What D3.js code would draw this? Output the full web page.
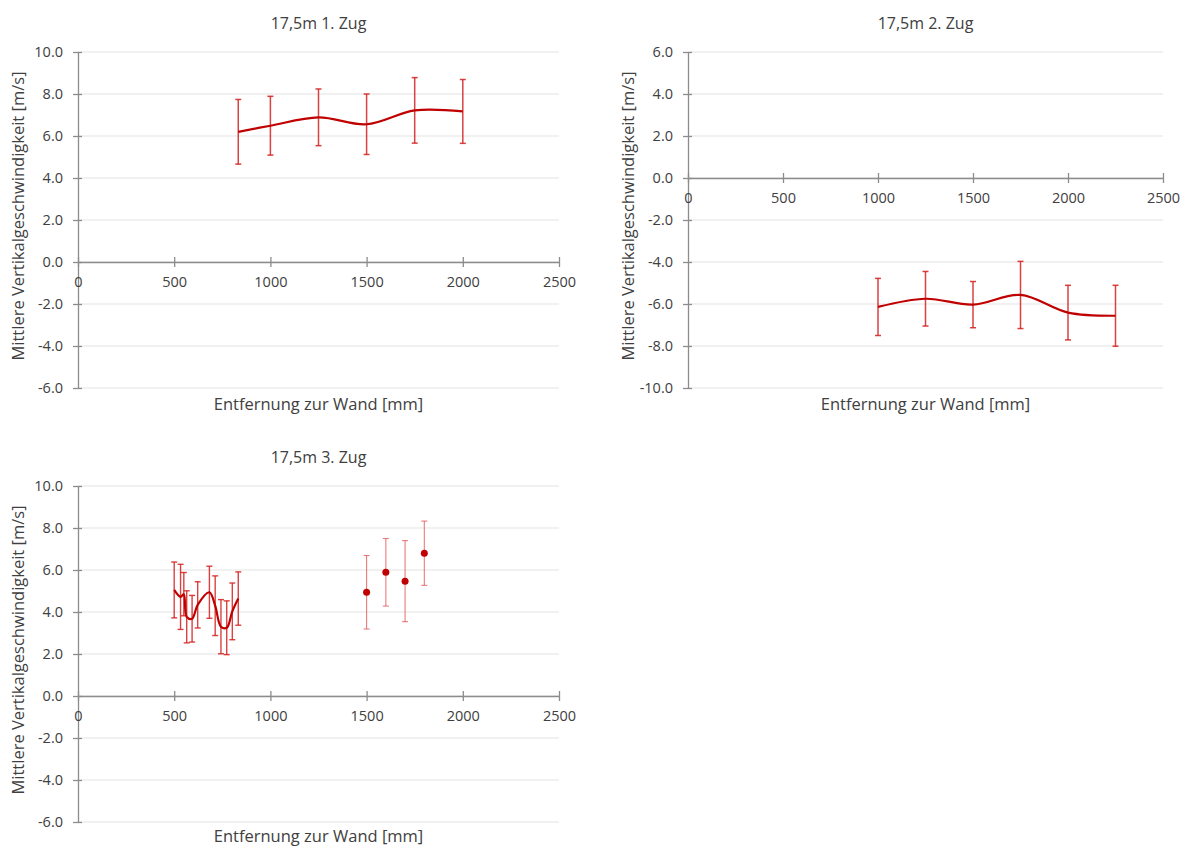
<!DOCTYPE html>
<html>
<head>
<meta charset="utf-8">
<script src="https://cdn.jsdelivr.net/npm/d3@7"></script>
<style>
  body { margin: 0; background: #fff; }
  text { font-family: "Open Sans", "Noto Sans", sans-serif; fill: #404040; }
</style>
</head>
<body>
<div id="chart"></div>
<script>
// ---- data ----
// 17,5m 1. Zug
var zug1X   = [833, 1000, 1250, 1500, 1750, 2000];
var zug1Y   = [6.20, 6.49, 6.89, 6.56, 7.22, 7.17];
var zug1Err = [1.54, 1.40, 1.35, 1.44, 1.56, 1.52];

// 17,5m 2. Zug
var zug2X   = [1000, 1250, 1500, 1750, 2000, 2250];
var zug2Y   = [-6.14, -5.75, -6.03, -5.57, -6.41, -6.56];
var zug2Err = [1.36, 1.30, 1.10, 1.60, 1.30, 1.45];

// 17,5m 3. Zug - line series
var zug3X   = [500, 533, 550, 565, 593, 622, 683, 713, 743, 773, 802, 833];
var zug3Y   = [5.05, 4.72, 4.85, 3.77, 3.68, 4.34, 4.94, 4.30, 3.30, 3.25, 4.03, 4.64];
var zug3Err = [1.33, 1.55, 1.03, 1.24, 1.11, 1.10, 1.24, 1.42, 1.29, 1.28, 1.35, 1.27];

// 17,5m 3. Zug - single points
var zug3bX   = [1500, 1600, 1700, 1800];
var zug3bY   = [4.94, 5.89, 5.47, 6.80];
var zug3bErr = [1.75, 1.61, 1.93, 1.53];

var xTicks = [0, 500, 1000, 1500, 2000, 2500];

var svg = d3.select("#chart").append("svg")
  .attr("width", 1189)
  .attr("height", 846);

function zip(xs, ys, es) {
  return xs.map(function(x, i) { return { x: x, y: ys[i], e: es[i] }; });
}

function drawPanel(p) {
  var x = d3.scaleLinear().domain([0, 2500]).range([p.left, p.right]);
  var y = d3.scaleLinear().domain(p.yDomain).range([p.bottom, p.top]);
  var yTicks = d3.range(p.yDomain[0], p.yDomain[1] + 0.001, 2);
  var g = svg.append("g");

  // gridlines
  g.selectAll(".grid").data(yTicks).enter().append("line")
    .attr("x1", x(0)).attr("x2", x(2500))
    .attr("y1", function(d) { return y(d); })
    .attr("y2", function(d) { return y(d); })
    .style("stroke", "#e3e3e3")
    .style("stroke-width", 1);

  // y axis
  var yAxis = g.append("g")
    .attr("transform", "translate(" + x(0) + ",0)")
    .call(d3.axisLeft(y).tickValues(yTicks).tickSize(4).tickSizeOuter(0).tickPadding(11)
      .tickFormat(function(d) { return d.toFixed(1); }));
  yAxis.selectAll(".tick line").attr("x1", 4).attr("x2", -5);
  yAxis.selectAll("path, line").style("stroke", "#8c8c8c").style("stroke-width", 1.3);
  yAxis.selectAll("text").style("font-size", "14.5px").style("fill", "#404040")
    .style("font-family", "'Open Sans', sans-serif");

  // x axis at y = 0
  var xAxis = g.append("g")
    .attr("transform", "translate(0," + y(0) + ")")
    .call(d3.axisBottom(x).tickValues(xTicks).tickSize(4).tickSizeOuter(0).tickPadding(11)
      .tickFormat(d3.format("d")));
  xAxis.selectAll(".tick line").attr("y1", -5).attr("y2", 5);
  xAxis.selectAll("path, line").style("stroke", "#8c8c8c").style("stroke-width", 1.3);
  xAxis.selectAll("text").style("font-size", "14.5px").style("fill", "#404040")
    .style("font-family", "'Open Sans', sans-serif");

  // titles
  g.append("text")
    .attr("x", (p.left + p.right) / 2).attr("y", p.top - 23)
    .attr("text-anchor", "middle")
    .style("font-size", "16px")
    .text(p.title);
  g.append("text")
    .attr("x", (p.left + p.right) / 2).attr("y", p.bottom + p.xLabelGap)
    .attr("text-anchor", "middle")
    .style("font-size", "16.5px")
    .text("Entfernung zur Wand [mm]");
  g.append("text")
    .attr("transform", "translate(" + (p.left - 54) + "," + ((p.top + p.bottom) / 2 - 4) + ") rotate(-90)")
    .attr("text-anchor", "middle")
    .style("font-size", "16.5px")
    .text("Mittlere Vertikalgeschwindigkeit [m/s]");

  p.series.forEach(function(s) {
    var pts = s.data;
    // error bars
    var eb = g.append("g")
      .style("stroke", s.barColor)
      .style("stroke-opacity", s.barOpacity)
      .style("stroke-width", s.barWidth);
    eb.selectAll(".bar").data(pts).enter().append("line")
      .attr("x1", function(d) { return x(d.x); }).attr("x2", function(d) { return x(d.x); })
      .attr("y1", function(d) { return y(d.y + d.e); }).attr("y2", function(d) { return y(d.y - d.e); });
    eb.selectAll(".capT").data(pts).enter().append("line")
      .attr("x1", function(d) { return x(d.x) - 3; }).attr("x2", function(d) { return x(d.x) + 3; })
      .attr("y1", function(d) { return y(d.y + d.e); }).attr("y2", function(d) { return y(d.y + d.e); });
    eb.selectAll(".capB").data(pts).enter().append("line")
      .attr("x1", function(d) { return x(d.x) - 3; }).attr("x2", function(d) { return x(d.x) + 3; })
      .attr("y1", function(d) { return y(d.y - d.e); }).attr("y2", function(d) { return y(d.y - d.e); });

    if (s.type === "line") {
      var line = d3.line()
        .x(function(d) { return x(d.x); })
        .y(function(d) { return y(d.y); })
        .curve(d3.curveCatmullRom);
      g.append("path").datum(pts)
        .attr("d", line)
        .style("fill", "none")
        .style("stroke", "#c00000")
        .style("stroke-width", 2.2);
    } else {
      g.selectAll(".dot").data(pts).enter().append("circle")
        .attr("cx", function(d) { return x(d.x); })
        .attr("cy", function(d) { return y(d.y); })
        .attr("r", 3.5)
        .style("fill", "#c00000");
    }
  });
}

drawPanel({
  title: "17,5m 1. Zug", left: 78, right: 559, top: 52, bottom: 388, yDomain: [-6, 10], xLabelGap: 22,
  series: [{ type: "line", data: zip(zug1X, zug1Y, zug1Err), barColor: "#d42020", barOpacity: 0.85, barWidth: 1.5 }]
});
drawPanel({
  title: "17,5m 2. Zug", left: 688, right: 1163, top: 52, bottom: 388, yDomain: [-10, 6], xLabelGap: 22,
  series: [{ type: "line", data: zip(zug2X, zug2Y, zug2Err), barColor: "#d42020", barOpacity: 0.85, barWidth: 1.5 }]
});
drawPanel({
  title: "17,5m 3. Zug", left: 78, right: 559, top: 486, bottom: 822, yDomain: [-6, 10], xLabelGap: 20,
  series: [
    { type: "line", data: zip(zug3X, zug3Y, zug3Err), barColor: "#d42020", barOpacity: 0.85, barWidth: 1.4 },
    { type: "dots", data: zip(zug3bX, zug3bY, zug3bErr), barColor: "#e05050", barOpacity: 0.75, barWidth: 1.1 }
  ]
});
</script>
</body>
</html>
